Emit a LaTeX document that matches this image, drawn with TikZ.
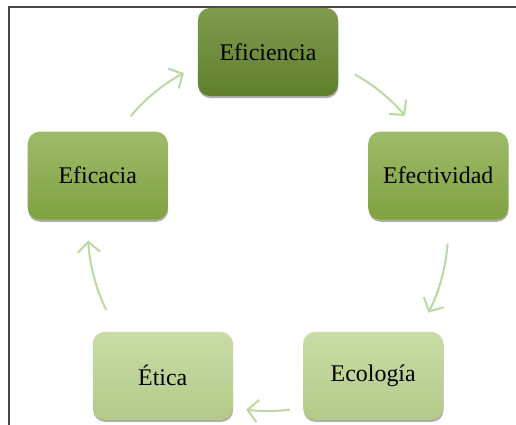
\documentclass[tikz,border=0pt]{standalone}
\usepackage{fontspec}
\setmainfont{Liberation Serif}
\usetikzlibrary{arrows.meta,shadows}

\definecolor{verdeA}{RGB}{104,138,48}
\definecolor{verdeB}{RGB}{134,170,68}
\definecolor{verdeC}{RGB}{188,212,144}
\definecolor{flechaverde}{RGB}{192,216,166}

\tikzset{
  caja/.style={draw=none, rounded corners=0.3cm, minimum width=3.5cm, minimum height=2.2cm,
    font=\fontsize{17}{20}\selectfont, text=black,
    drop shadow={shadow xshift=0.3pt, shadow yshift=-1.5pt, opacity=0.45, fill=black!70}},
  flecha/.style={flechaverde, line width=1.5pt, -{Straight Barb[length=2.6mm,width=5.6mm]}}
}

\begin{document}
\begin{tikzpicture}[scale=0.025]
        \useasboundingbox (-268,-193) rectangle (248,231);
        % marco
        \draw[black!72, line width=1.6pt] (-259,-200)--(-259,224)--(260,224);
        % cajas del ciclo
        \node[caja, top color=verdeA!85!white, bottom color=verdeA!92!black] (efi) at (90:179) {Eficiencia};
        \node[caja, top color=verdeB!80!white, bottom color=verdeB!95!black] (efe) at (18:179) {Efectividad};
        \node[caja, top color=verdeC!80!white, bottom color=verdeC!95!black] (eco) at (-54:179) {Ecología};
        \node[caja, top color=verdeC!80!white, bottom color=verdeC!95!black] (eti) at (234:179) {Ética};
        \node[caja, top color=verdeB!80!white, bottom color=verdeB!95!black] (ecy) at (162:179) {Eficacia};
        % flechas en arco
        \draw[flecha] (140:179) arc[start angle=140, end angle=118, radius=179];
        \draw[flecha] (61:179) arc[start angle=61, end angle=40, radius=179];
        \draw[flecha] (-4:180) arc[start angle=-4, end angle=-27, radius=180];
        \draw[flecha] (-83:180) arc[start angle=-83, end angle=-97, radius=180];
        \draw[flecha] (206:180) arc[start angle=206, end angle=183, radius=180];
      \end{tikzpicture}
\end{document}
